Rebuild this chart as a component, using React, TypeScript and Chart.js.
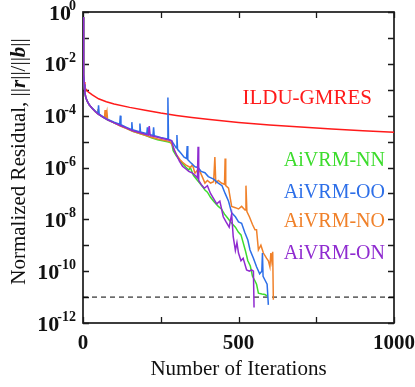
import React, { useEffect, useRef } from 'react';
import { Chart, registerables } from 'chart.js';

Chart.register(...registerables);

const SERIF = '"Liberation Serif", "Times New Roman", Times, serif';

// axis definitions
const xMin = 0;
const xMax = 1000;
const xTickValues = [0, 250, 500, 750, 1000];
const xTickLabels = ['0', '', '500', '', '1000'];
const yDecades = [0, -1, -2, -3, -4, -5, -6, -7, -8, -9, -10, -11, -12];
const convergenceTol = 1e-11;

// series: [iteration, log10(normalized residual)]
const ilduGmres: [number, number][] = [
  [0, -0.2], [1, -1.3], [2, -2.1], [3, -2.5], [4, -2.7], [6, -2.88], [9, -2.98], [14, -3.06],
  [20, -3.11], [30, -3.2], [50, -3.35], [75, -3.46], [100, -3.55], [150, -3.68], [200, -3.79],
  [250, -3.9], [300, -3.99], [350, -4.07], [400, -4.14], [500, -4.26], [600, -4.36],
  [700, -4.44], [800, -4.51], [900, -4.58], [1000, -4.64],
];

const aivrmNN: [number, number][] = [
  [0, -0.2], [1, -1.0], [2, -1.8], [3, -2.4], [4, -2.8], [6, -3.1], [9, -3.3], [14, -3.45],
  [20, -3.58], [30, -3.72], [40, -3.85], [50, -3.95], [65, -4.07], [80, -4.17], [100, -4.28],
  [120, -4.38], [140, -4.49], [160, -4.6], [180, -4.68], [200, -4.76], [220, -4.85], [240, -4.93],
  [260, -4.98], [275, -5.02], [285, -5.06], [290, -5.35], [300, -5.55], [310, -5.7], [320, -5.85],
  [330, -5.98], [340, -6.1], [345, -6.0], [355, -6.3], [365, -6.45], [375, -6.6], [385, -6.75],
  [392, -6.87], [400, -6.95], [410, -7.15], [420, -7.3], [435, -7.5], [445, -7.6], [455, -7.8],
  [465, -7.95], [478, -8.15], [490, -8.3], [500, -8.5], [508, -8.6], [515, -8.9], [522, -9.2],
  [530, -9.6], [538, -9.8], [545, -10.2], [552, -10.35], [558, -10.5], [564, -10.85],
  [575, -10.88], [585, -10.9], [592, -10.95],
];

const aivrmOO: [number, number][] = [
  [0, -0.2], [1, -1.0], [2, -1.8], [3, -2.4], [4, -2.8], [6, -3.1], [9, -3.3], [14, -3.45],
  [20, -3.58], [30, -3.72], [40, -3.83], [48, -3.92], [50, -3.6], [52, -3.94], [65, -4.05],
  [80, -4.15], [100, -4.25], [118, -4.33], [120, -4.0], [122, -4.35], [140, -4.45], [155, -4.53],
  [157, -4.25], [159, -4.54], [170, -4.58], [181, -4.62], [183, -4.3], [185, -4.63], [200, -4.68],
  [205, -4.7], [207, -4.45], [209, -4.71], [225, -4.76], [227, -4.45], [229, -4.77], [250, -4.84],
  [271, -4.9], [273, -3.3], [275, -4.92], [285, -4.97], [292, -5.1], [300, -5.25], [302, -4.75],
  [304, -5.3], [315, -5.45], [325, -5.6], [333, -5.65], [335, -5.17], [337, -5.7], [345, -5.8],
  [360, -5.97], [370, -6.0], [380, -6.15], [392, -6.2], [403, -6.35], [420, -6.45], [435, -6.6],
  [447, -6.7], [457, -7.0], [468, -7.3], [478, -7.75], [490, -7.9], [500, -8.1], [510, -8.15],
  [520, -8.5], [530, -8.8], [537, -9.18], [548, -9.5], [558, -9.83], [568, -10.1], [575, -10.0],
  [577, -9.3], [579, -10.2], [585, -10.34], [592, -10.5], [596, -11.3],
];

const aivrmNO: [number, number][] = [
  [0, -0.2], [1, -1.0], [2, -1.8], [3, -2.4], [4, -2.8], [6, -3.1], [9, -3.3], [14, -3.45],
  [20, -3.58], [30, -3.72], [40, -3.85], [46, -3.92], [48, -3.75], [50, -3.94], [60, -4.02],
  [69, -4.08], [71, -3.78], [73, -4.1], [77, -3.85], [79, -4.14], [100, -4.28], [120, -4.4],
  [140, -4.5], [160, -4.6], [180, -4.68], [200, -4.76], [220, -4.83], [240, -4.9], [260, -4.95],
  [280, -5.0], [290, -5.2], [300, -5.5], [312, -5.7], [320, -5.8], [330, -5.9], [345, -6.0],
  [352, -5.9], [360, -6.22], [368, -6.1], [376, -6.15], [385, -6.4], [392, -6.6], [400, -6.5],
  [410, -6.6], [420, -6.55], [424, -5.6], [427, -6.6], [435, -6.5], [445, -6.6], [455, -6.65],
  [457, -5.65], [459, -6.7], [468, -6.8], [478, -7.5], [490, -7.55], [500, -7.6], [510, -7.5],
  [521, -7.64], [524, -6.7], [527, -7.7], [535, -7.9], [545, -8.2], [553, -8.4], [558, -8.4],
  [564, -9.18], [572, -9.0], [580, -9.3], [590, -9.5], [596, -9.6], [601, -9.83], [604, -9.3],
  [607, -9.6], [610, -9.25], [612, -11.1],
];

const aivrmON: [number, number][] = [
  [0, -0.2], [1, -1.0], [2, -1.8], [3, -2.4], [4, -2.8], [6, -3.1], [9, -3.3], [14, -3.45],
  [20, -3.58], [30, -3.72], [40, -3.85], [50, -3.95], [65, -4.07], [80, -4.17], [100, -4.28],
  [120, -4.38], [140, -4.48], [160, -4.58], [180, -4.65], [200, -4.72], [210, -4.75], [213, -4.4],
  [216, -4.77], [230, -4.8], [250, -4.86], [270, -4.92], [285, -4.96], [292, -5.3], [300, -5.5],
  [310, -5.75], [320, -5.95], [330, -6.05], [340, -6.15], [350, -6.2], [360, -6.3], [368, -6.4],
  [370, -5.2], [372, -6.5], [380, -6.65], [390, -6.8], [400, -6.7], [410, -7.0], [420, -7.2],
  [430, -7.4], [440, -7.3], [451, -7.9], [460, -8.1], [470, -8.3], [478, -7.8], [483, -8.67],
  [490, -9.2], [495, -8.9], [500, -9.3], [508, -9.6], [515, -9.5], [526, -9.95], [535, -10.0],
  [542, -9.95], [548, -10.0], [550, -11.4],
];

const thresholdLine: [number, number][] = [[xMin, convergenceTol], [xMax, convergenceTol]];

const seriesNames = ['ILDU-GMRES', 'AiVRM-NN', 'AiVRM-OO', 'AiVRM-NO', 'AiVRM-ON'];
const seriesColors = ['#ff1a1a', '#3cdc2c', '#2d6fe8', '#f0812a', '#8f2bd0'];
// label anchors (right edge, data coordinates: iteration, log10 residual)
const labelAnchors: [number, number][] = [[929, -3.55], [971, -5.94], [971, -7.18], [971, -8.29], [971, -9.53]];

const toPoints = (s: [number, number][]) => s.map(([x, e]) => ({ x, y: Math.pow(10, e) }));

const frameAndTicks = {
  id: 'frameAndTicks',
  beforeDatasetsDraw(chart: any) {
    const { ctx, chartArea: a, scales } = chart;
    const xs = scales.x;
    const ys = scales.y;
    ctx.save();
    ctx.strokeStyle = '#1a1a1a';
    ctx.lineWidth = 1.7;
    ctx.strokeRect(a.left, a.top, a.right - a.left, a.bottom - a.top);
    ctx.lineWidth = 1.3;
    ctx.beginPath();
    yDecades.forEach((e) => {
      const y = Math.round(ys.getPixelForValue(Math.pow(10, e))) + 0.5;
      ctx.moveTo(a.left, y);
      ctx.lineTo(a.left + 6, y);
      ctx.moveTo(a.right, y);
      ctx.lineTo(a.right - 6, y);
    });
    xTickValues.forEach((v) => {
      const x = Math.round(xs.getPixelForValue(v)) + 0.5;
      ctx.moveTo(x, a.bottom);
      ctx.lineTo(x, a.bottom - 6);
      ctx.moveTo(x, a.top);
      ctx.lineTo(x, a.top + 6);
    });
    ctx.stroke();
    ctx.restore();
  },
  afterDraw(chart: any) {
    const { ctx, chartArea: a, scales } = chart;
    const xs = scales.x;
    const ys = scales.y;
    ctx.save();
    ctx.fillStyle = '#111';
    // y tick labels 10^e
    const baseFont = `bold 22px ${SERIF}`;
    const supFont = `bold 14px ${SERIF}`;
    yDecades.filter((e) => e % 2 === 0).forEach((e) => {
      const y = ys.getPixelForValue(Math.pow(10, e));
      const sup = String(e);
      ctx.font = supFont;
      const sw = ctx.measureText(sup).width;
      ctx.font = baseFont;
      const bw = ctx.measureText('10').width;
      const right = a.left - 7;
      ctx.textAlign = 'left';
      ctx.textBaseline = 'alphabetic';
      ctx.fillText('10', right - sw - bw + 2, y + 7.5);
      ctx.font = supFont;
      ctx.fillText(sup, right - sw, y - 2);
    });
    // x tick labels
    ctx.font = `bold 21px ${SERIF}`;
    ctx.textAlign = 'center';
    ctx.textBaseline = 'alphabetic';
    xTickValues.forEach((v, i) => {
      if (!xTickLabels[i]) return;
      ctx.fillText(xTickLabels[i], xs.getPixelForValue(v), a.bottom + 26);
    });
    // x title
    ctx.font = `21px ${SERIF}`;
    ctx.fillText('Number of Iterations', (a.left + a.right) / 2, a.bottom + 52);
    // y title with bold italic r and b
    const parts: [string, string][] = [
      ['Normalized Residual, ||', `21px ${SERIF}`],
      ['r', `italic bold 21px ${SERIF}`],
      ['||/||', `21px ${SERIF}`],
      ['b', `italic bold 21px ${SERIF}`],
      ['||', `21px ${SERIF}`],
    ];
    let total = 0;
    parts.forEach(([t, f]) => { ctx.font = f; total += ctx.measureText(t).width; });
    ctx.translate(24.5, (a.top + a.bottom) / 2 - 6);
    ctx.rotate(-Math.PI / 2);
    ctx.textAlign = 'left';
    let cx = -total / 2;
    parts.forEach(([t, f]) => {
      ctx.font = f;
      ctx.fillText(t, cx, 0);
      cx += ctx.measureText(t).width;
    });
    ctx.restore();
    // series labels
    ctx.save();
    ctx.textAlign = 'right';
    ctx.textBaseline = 'alphabetic';
    seriesNames.forEach((name, i) => {
      ctx.font = `${i === 0 ? 21 : 20}px ${SERIF}`;
      ctx.fillStyle = seriesColors[i];
      const [ix, e] = labelAnchors[i];
      ctx.fillText(name, xs.getPixelForValue(ix), ys.getPixelForValue(Math.pow(10, e)));
    });
    ctx.restore();
  },
};

export default function App() {
  const ref = useRef<HTMLCanvasElement | null>(null);
  useEffect(() => {
    if (!ref.current) return;
    const lineDs = (label: string, data: [number, number][], color: string) => ({
      label,
      data: toPoints(data),
      borderColor: color,
      backgroundColor: color,
      borderWidth: 1.5,
      pointRadius: 0,
      tension: 0,
      fill: false,
    });
    const chart = new Chart(ref.current, {
      type: 'line',
      data: {
        datasets: [
          lineDs(seriesNames[4], aivrmON, seriesColors[4]),
          lineDs(seriesNames[2], aivrmOO, seriesColors[2]),
          lineDs(seriesNames[3], aivrmNO, seriesColors[3]),
          lineDs(seriesNames[1], aivrmNN, seriesColors[1]),
          lineDs(seriesNames[0], ilduGmres, seriesColors[0]),
          {
            label: 'tolerance',
            data: thresholdLine.map(([x, y]) => ({ x, y })),
            borderColor: '#000',
            borderWidth: 1,
            borderDash: [5, 4],
            pointRadius: 0,
            fill: false,
          },
        ],
      },
      options: {
        animation: false,
        responsive: false,
        devicePixelRatio: 1,
        layout: { padding: { left: 83, right: 21, top: 12, bottom: 64 } },
        plugins: { legend: { display: false }, tooltip: { enabled: false } },
        scales: {
          x: { type: 'linear', min: xMin, max: xMax, display: false },
          y: { type: 'logarithmic', min: 1e-12, max: 1, display: false },
        },
      },
      plugins: [frameAndTicks],
    });
    return () => chart.destroy();
  }, []);
  return (
    <div style={{ position: 'absolute', left: 0, top: 0, width: 415, height: 387, background: '#fff' }}>
      <canvas ref={ref} width={415} height={387} style={{ display: 'block' }} />
    </div>
  );
}
